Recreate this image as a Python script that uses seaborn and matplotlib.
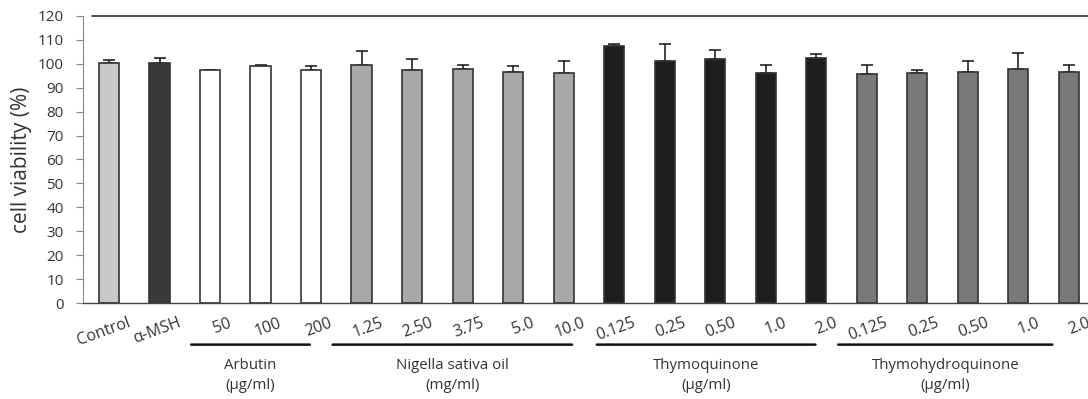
import pandas as pd
import matplotlib.pyplot as plt
import matplotlib.transforms as mtrans
import seaborn as sns

# Values
tick_labels = ["Control", "α-MSH",
               "50", "100", "200",
               "1.25", "2.50", "3.75", "5.0", "10.0",
               "0.125", "0.25", "0.50", "1.0", "2.0",
               "0.125", "0.25", "0.50", "1.0", "2.0"]
viability = [100.2, 100.2,
             97.3, 99.1, 97.3,
             99.5, 97.3, 97.8, 96.7, 96.2,
             107.4, 101.2, 101.9, 96.3, 102.4,
             95.6, 96.3, 96.7, 97.8, 96.7]
sd = [1.2, 2.4,
      0.3, 0.5, 1.8,
      5.7, 4.6, 1.8, 2.4, 5.0,
      0.7, 7.0, 4.0, 3.3, 1.8,
      4.0, 1.1, 4.6, 6.8, 2.9]
bar_colors = ["#c8c8c8", "#3a3a3a"] + ["#ffffff"] * 3 + ["#a8a8a8"] * 5 + \
             ["#1e1e1e"] * 5 + ["#787878"] * 5

group_names = ["Arbutin\n(μg/ml)", "Nigella sativa oil\n(mg/ml)",
               "Thymoquinone\n(μg/ml)", "Thymohydroquinone\n(μg/ml)"]
group_first = [2, 5, 10, 15]
group_last = [4, 9, 14, 19]
# underline extent relative to first/last bar (in bar spacings)
line_pad = [(-0.43, 0.03), (-0.63, 0.22), (-0.40, 0.04), (-0.62, -0.27)]

df = pd.DataFrame({"key": [f"{i}" for i in range(len(tick_labels))],
                   "viability": viability})

sns.set_style("white")
plt.rcParams['font.family'] = ['Open Sans', 'DejaVu Sans']
txt = "#333333"

fig = plt.figure(figsize=(10.88, 3.99), dpi=100)
ax = fig.add_axes([0.0763, 0.2406, 0.9237, 0.7194])

sns.barplot(data=df, x="key", y="viability", hue="key", palette=bar_colors,
            legend=False, dodge=False, width=0.4, edgecolor="#333333",
            linewidth=1.2, ax=ax, zorder=2)
xs = list(range(len(tick_labels)))
ax.errorbar(xs, viability, yerr=[[0] * len(sd), sd], fmt="none", ecolor="#111111",
            elinewidth=1.1, capsize=4, capthick=1.1, zorder=1)

ax.set_xlim(-0.515, 19.38)
ax.set_ylim(0, 120)
ax.set_yticks(range(0, 121, 10))
ax.tick_params(axis="y", left=True, length=5, width=0.8, color="#888888",
               labelsize=11, labelcolor=txt, pad=9)
ax.set_xticks(xs)
ax.set_xticklabels([])
ax.tick_params(axis="x", bottom=False)
ax.set_xlabel("")
ax.set_ylabel("cell viability (%)", fontsize=15, color=txt, labelpad=4)

# rotated category labels, shifted a little right of each bar
shift = mtrans.ScaledTranslation(0.18, -0.12, fig.dpi_scale_trans)
for x, lab in zip(xs, tick_labels):
    ax.text(x, 0, lab, transform=ax.get_xaxis_transform() + shift,
            rotation=20, rotation_mode="anchor", ha="right", va="top",
            fontsize=11.5, color=txt)

for side in ["top", "right"]:
    ax.spines[side].set_visible(False)
ax.spines["left"].set_color("#888888")
ax.spines["left"].set_linewidth(0.8)
ax.spines["bottom"].set_color("#444444")
ax.spines["bottom"].set_linewidth(1.0)
ax.axhline(120, xmin=0.009, xmax=1, color="#333333", lw=1.2, clip_on=False)

for name, a, b, (pa, pb) in zip(group_names, group_first, group_last, line_pad):
    x0, x1 = a + pa, b + pb
    ax.annotate("", xy=(x0, -0.145), xytext=(x1, -0.145),
                xycoords=("data", "axes fraction"),
                arrowprops=dict(arrowstyle="-", color="#111111", lw=1.8))
    ax.text((x0 + x1) / 2, -0.19, name, transform=ax.get_xaxis_transform(),
            ha="center", va="top", fontsize=10.8, color=txt, linespacing=1.5)

fig.savefig("out.png", dpi=100)
